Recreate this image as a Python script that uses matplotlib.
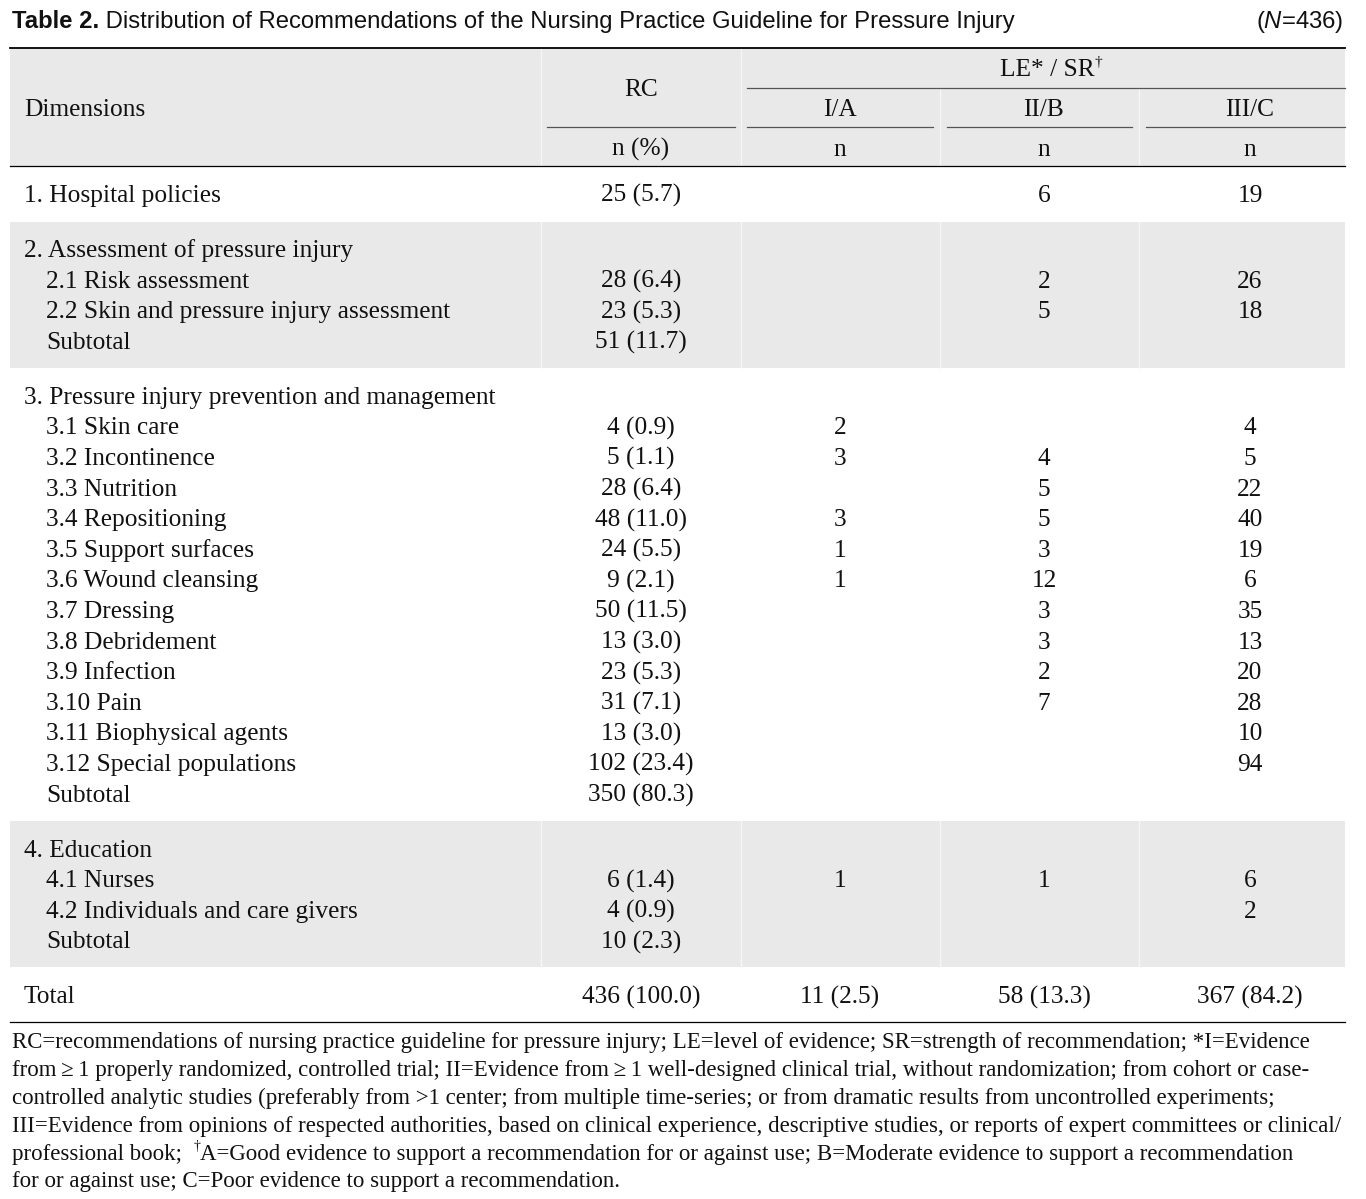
import matplotlib
matplotlib.use('Agg')
import matplotlib.pyplot as plt

# Table contents
dimensions = [
    "1. Hospital policies",
    "2. Assessment of pressure injury", "2.1 Risk assessment",
    "2.2 Skin and pressure injury assessment", "Subtotal",
    "3. Pressure injury prevention and management", "3.1 Skin care",
    "3.2 Incontinence", "3.3 Nutrition", "3.4 Repositioning",
    "3.5 Support surfaces", "3.6 Wound cleansing", "3.7 Dressing",
    "3.8 Debridement", "3.9 Infection", "3.10 Pain",
    "3.11 Biophysical agents", "3.12 Special populations", "Subtotal",
    "4. Education", "4.1 Nurses", "4.2 Individuals and care givers", "Subtotal",
    "Total",
]
indent = [0, 0, 1, 1, 1, 0, 1, 1, 1, 1, 1, 1, 1, 1, 1, 1, 1, 1, 1,
          0, 1, 1, 1, 0]
group = [1, 2, 2, 2, 2, 3, 3, 3, 3, 3, 3, 3, 3, 3, 3, 3, 3, 3, 3,
         4, 4, 4, 4, 5]
rc_n = ["25 (5.7)", "", "28 (6.4)", "23 (5.3)", "51 (11.7)", "", "4 (0.9)",
        "5 (1.1)", "28 (6.4)", "48 (11.0)", "24 (5.5)", "9 (2.1)",
        "50 (11.5)", "13 (3.0)", "23 (5.3)", "31 (7.1)", "13 (3.0)",
        "102 (23.4)", "350 (80.3)", "", "6 (1.4)", "4 (0.9)", "10 (2.3)",
        "436 (100.0)"]
le_a = ["", "", "", "", "", "", "2", "3", "", "3", "1", "1", "", "", "", "",
        "", "", "", "", "1", "", "", "11 (2.5)"]
le_b = ["6", "", "2", "5", "", "", "", "4", "5", "5", "3", "12", "3", "3",
        "2", "7", "", "", "", "", "1", "", "", "58 (13.3)"]
le_c = ["19", "", "26", "18", "", "", "4", "5", "22", "40", "19", "6", "35",
        "13", "20", "28", "10", "94", "", "", "6", "2", "", "367 (84.2)"]
shaded_groups = [2, 4]

footnotes = [
    "RC=recommendations of nursing practice guideline for pressure injury; "
    "LE=level of evidence; SR=strength of recommendation; *I=Evidence",
    "from\u2009\u2265\u20091 properly randomized, controlled trial; "
    "II=Evidence from\u2009\u2265\u20091 well-designed clinical trial, "
    "without randomization; from cohort or case-",
    "controlled analytic studies (preferably from >1 center; from multiple "
    "time-series; or from dramatic results from uncontrolled experiments;",
    "III=Evidence from opinions of respected authorities, based on clinical "
    "experience, descriptive studies, or reports of expert committees or clinical/",
    ["professional book;  ", "\u2020",
     "A=Good evidence to support a recommendation for or against use; "
     "B=Moderate evidence to support a recommendation"],
    "for or against use; C=Poor evidence to support a recommendation.",
]

SERIF = ['Liberation Serif', 'DejaVu Serif']
SANS = ['Liberation Sans', 'DejaVu Sans']
plt.rcParams['mathtext.fontset'] = 'custom'
plt.rcParams['mathtext.rm'] = 'Liberation Sans'
plt.rcParams['mathtext.it'] = 'Liberation Sans:italic'

BODY = 18.3
NOTE = 16.5
TITLE = 17.2
GRAY = '#e9e9e9'
TXT = '#111111'

fig = plt.figure(figsize=(13.66, 11.99), dpi=100)
ax = fig.add_axes([0, 0, 1, 1])
ax.set_xlim(0, 1366)
ax.set_ylim(1199, 0)
ax.axis('off')

left, right = 10, 1345
col_x = [641, 840, 1044, 1250]
col_span = [(547, 735), (747, 933), (947, 1132), (1146, 1345)]
gaps = [541, 741, 940, 1139]


def chain(x, y, parts, size, family, **kw):
    """draw text pieces one after another on a shared baseline"""
    prev = None
    anchor = None
    for txt, extra in parts:
        props = dict(fontsize=size, family=family, color=TXT)
        props.update(kw)
        props.update(extra)
        sup = props.pop('sup', False)
        if prev is None:
            prev = ax.text(x, y, txt, va='baseline', ha='left', **props)
            anchor = prev
        elif sup:
            prev = ax.annotate(txt, xy=(1, 0.55), xycoords=(prev, anchor),
                               va='bottom', ha='left', **props)
        else:
            prev = ax.annotate(txt, xy=(1, 0), xycoords=(prev, anchor),
                               va='bottom', ha='left', **props)
    return prev


# title
chain(12, 28, [("Table 2.", {'weight': 'bold'}),
               (" Distribution of Recommendations of the Nursing Practice "
                "Guideline for Pressure Injury", {})], TITLE, SANS)
ax.text(1343, 28, r"($\mathit{N}$=436)", ha='right', va='baseline',
        fontsize=TITLE, family=SANS, color=TXT)

# header block
ax.fill_between([left, right], 48, 166, color=GRAY, lw=0)
for gx in gaps:
    ax.plot([gx, gx], [48 if gx < 900 else 88, 166], color='#f6f6f6', lw=1)
ax.plot([left, right], [48, 48], color='black', lw=1.3)
ax.plot([left, right], [166, 166], color='black', lw=0.9)

ax.text(24, 108 + 8, "Dimensions", fontsize=BODY, family=SERIF, color=TXT,
        va='baseline')
ax.text(col_x[0], 88 + 8, "RC", fontsize=BODY, family=SERIF, color=TXT,
        va='baseline', ha='center')
ax.text(col_x[0], 148 + 8, "n (%)", fontsize=BODY, family=SERIF, color=TXT,
        va='baseline', ha='center')
chain(1000, 68 + 8, [("LE* / SR", {}), ("\u2020", {'sup': True,
                                                  'fontsize': 11})],
      BODY, SERIF)
ax.plot([747, right], [88, 88], color='#555555', lw=0.9)
for (x0, x1) in col_span:
    ax.plot([x0, x1], [127, 127], color='#555555', lw=0.9)
for cx, lab in zip(col_x[1:], ["I/A", "II/B", "III/C"]):
    ax.text(cx, 108 + 8, lab, fontsize=BODY, family=SERIF, color=TXT,
            va='baseline', ha='center')
    ax.text(cx, 148 + 8, "n", fontsize=BODY, family=SERIF, color=TXT,
            va='baseline', ha='center')

# body rows
pitch = 30.6
group_gap = 55
ys = []
y = 194
for i in range(len(dimensions)):
    if i > 0:
        y += group_gap if group[i] != group[i - 1] else pitch
    ys.append(y)

for g in shaded_groups:
    idx = [i for i in range(len(group)) if group[i] == g]
    top = ys[idx[0]] - 27.5
    bot = ys[idx[-1]] + 27
    ax.fill_between([left, right], top, bot, color=GRAY, lw=0)
    for gx in gaps:
        ax.plot([gx, gx], [top, bot], color='#f6f6f6', lw=1)

for i, lab in enumerate(dimensions):
    base = ys[i] + 8
    ax.text(24 + 22 * indent[i], base, lab, fontsize=BODY, family=SERIF,
            color=TXT, va='baseline')
    for cx, val in zip(col_x, [rc_n[i], le_a[i], le_b[i], le_c[i]]):
        if val:
            ax.text(cx, base, val, fontsize=BODY, family=SERIF, color=TXT,
                    va='baseline', ha='center')

rule_y = ys[-1] + 27
ax.plot([left, right], [rule_y, rule_y], color='black', lw=0.9)

# footnotes
fy = rule_y + 26
for line in footnotes:
    if isinstance(line, list):
        chain(12, fy, [(line[0], {}), (line[1], {'sup': True, 'fontsize': 10}),
                       (line[2], {})], NOTE, SERIF)
    else:
        ax.text(12, fy, line, fontsize=NOTE, family=SERIF, color=TXT,
                va='baseline')
    fy += 27.8

fig.savefig('out.png', dpi=100)
